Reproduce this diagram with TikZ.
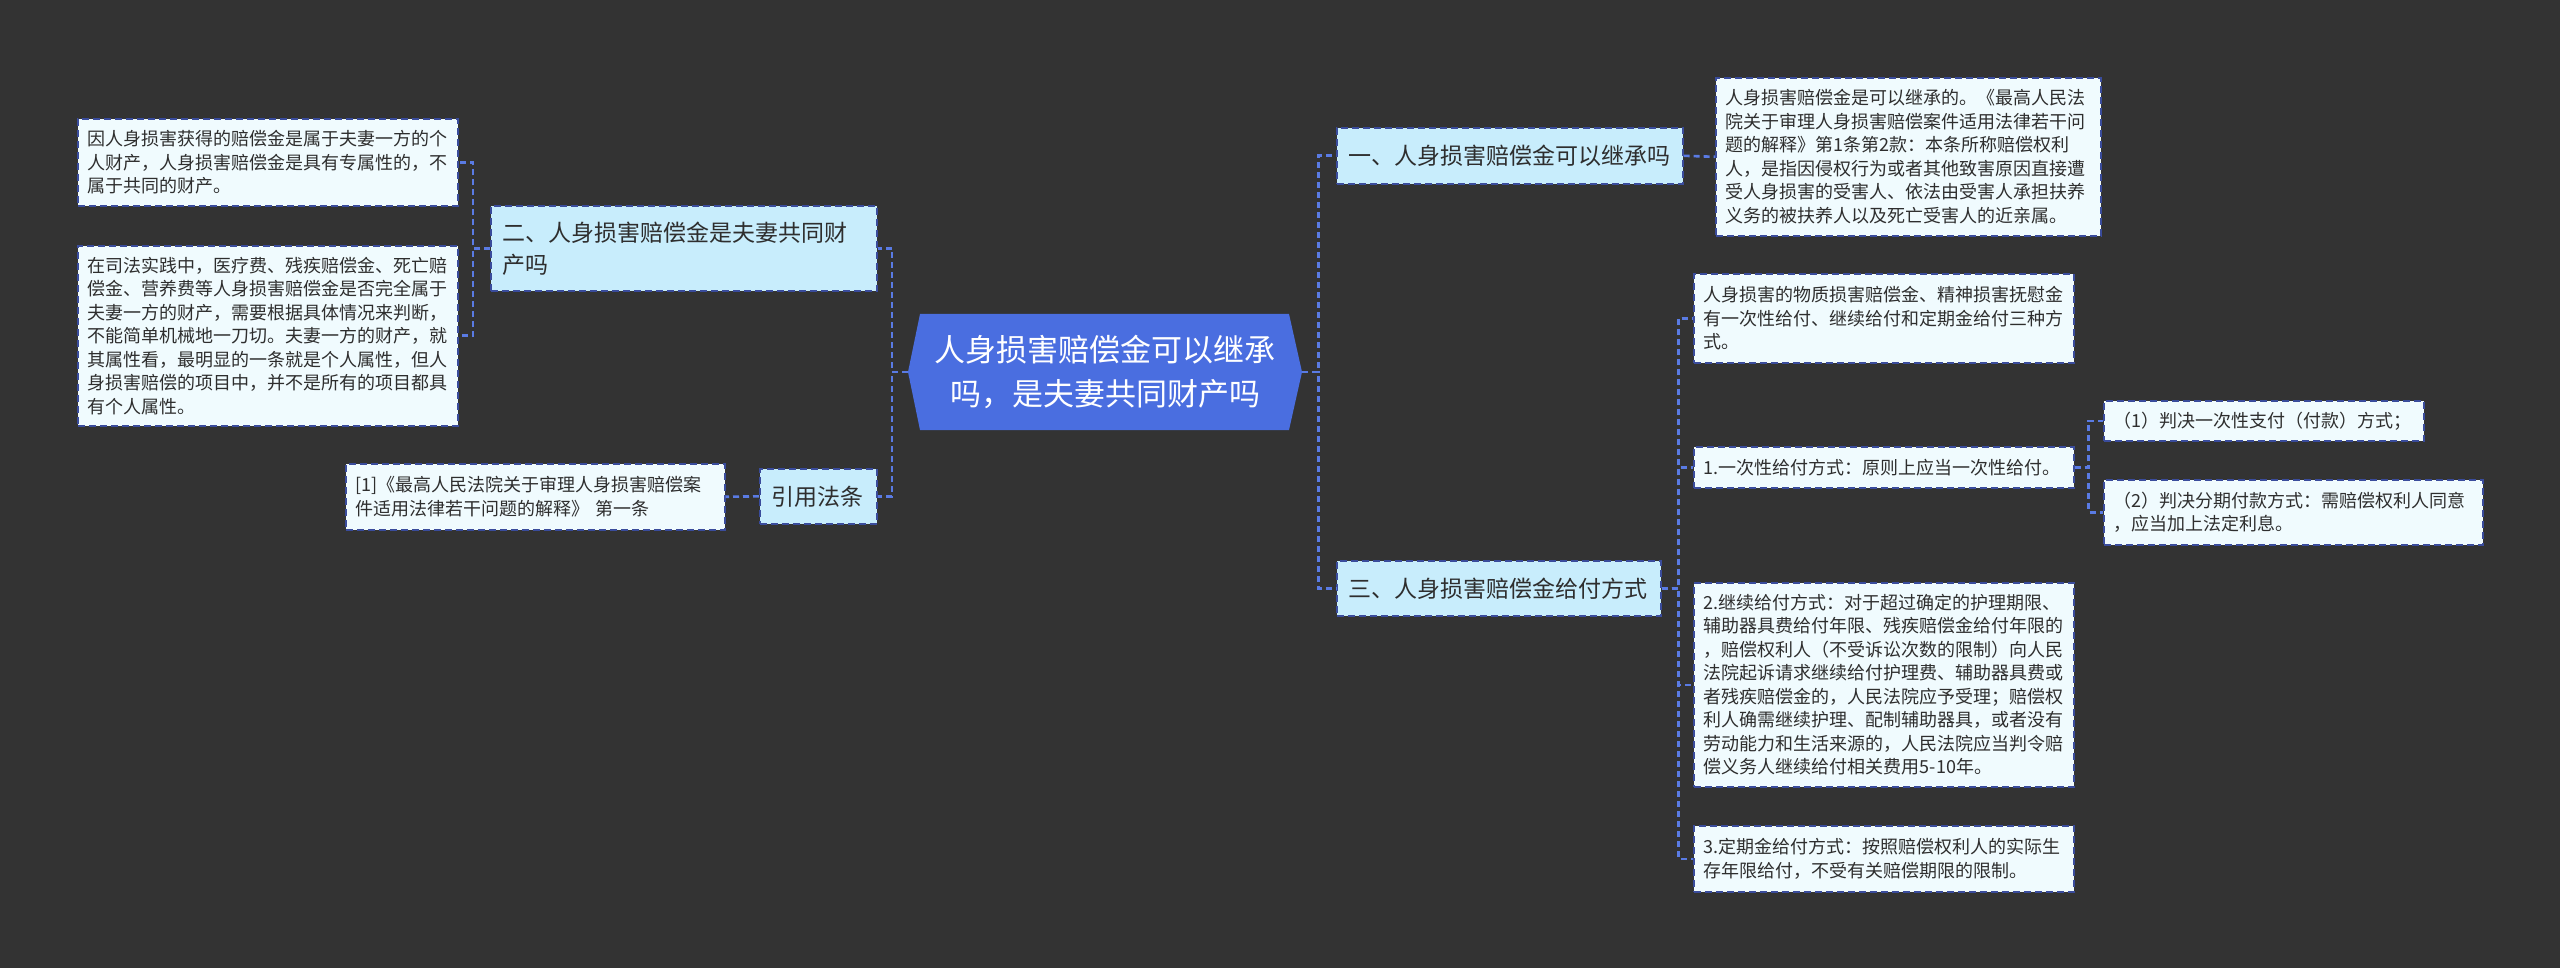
\documentclass[tikz,border=0pt]{standalone}
\usepackage{fontspec}
\setmainfont{Noto Sans CJK SC}
\usetikzlibrary{positioning,calc}
\definecolor{bg}{HTML}{333333}
\definecolor{wire}{HTML}{5A7BE4}
\definecolor{edge}{HTML}{3A4C9C}
\definecolor{rootblue}{HTML}{4A6EE0}
\definecolor{skytint}{HTML}{C8EDFC}
\definecolor{paletint}{HTML}{F0FBFE}
\definecolor{ink}{HTML}{2E2E2E}
\tikzset{
  card/.style={draw=edge, line width=1.6pt, dash pattern=on 7pt off 4pt,
    anchor=north west, align=left, text=ink, inner ysep=0pt},
  leaf/.style={card, fill=paletint, inner xsep=10pt,
    font=\fontsize{18pt}{23.5pt}\selectfont},
  branch/.style={card, fill=skytint, inner xsep=12pt,
    font=\fontsize{23pt}{32pt}\selectfont},
  rootbox/.style={text=white, align=center, minimum width=394pt, minimum height=116pt,
    inner sep=0pt, font=\fontsize{31pt}{44pt}\selectfont},
  link/.style={draw=wire, line width=2.6pt, dash pattern=on 6pt off 4pt},
}

\begin{document}
\begin{tikzpicture}[x=1pt, y=-1pt]
  \fill[bg] (0,0) rectangle (2560,968);
  \useasboundingbox (0,0) rectangle (2560,968);

  % centre
  \fill[rootblue] (908,372) -- (920,314) -- (1289,314) -- (1302,372) -- (1289,430) -- (920,430) -- cycle;
  \node[rootbox] (root) at (1105,372) {人身损害赔偿金可以继承\\吗，是夫妻共同财产吗};

  % left side
  \node[branch, text width=362pt, minimum height=85pt] (n2) at (490,205) {二、人身损害赔偿金是夫妻共同财\\产吗};
  \node[leaf, text width=360pt, minimum height=87pt] (a1) at (77,118)
    {因人身损害获得的赔偿金是属于夫妻一方的个\\人财产，人身损害赔偿金是具有专属性的，不\\属于共同的财产。};
  \node[leaf, text width=360pt, minimum height=180pt] (a2) at (77,245)
    {在司法实践中，医疗费、残疾赔偿金、死亡赔\\偿金、营养费等人身损害赔偿金是否完全属于\\夫妻一方的财产，需要根据具体情况来判断，\\不能简单机械地一刀切。夫妻一方的财产，就\\其属性看，最明显的一条就是个人属性，但人\\身损害赔偿的项目中，并不是所有的项目都具\\有个人属性。};
  \node[branch, text width=93pt, minimum height=55pt] (cite) at (759,468) {引用法条};
  \node[leaf, text width=359pt, minimum height=66pt] (ref) at (345,463)
    {[1]《最高人民法院关于审理人身损害赔偿案\\件适用法律若干问题的解释》 第一条};

  % right side
  \node[branch, text width=322pt, minimum height=56pt] (n1) at (1336,127) {一、人身损害赔偿金可以继承吗};
  \node[leaf, text width=365pt, minimum height=158pt] (d1) at (1715,77)
    {人身损害赔偿金是可以继承的。《最高人民法\\院关于审理人身损害赔偿案件适用法律若干问\\题的解释》第1条第2款：本条所称赔偿权利\\人，是指因侵权行为或者其他致害原因直接遭\\受人身损害的受害人、依法由受害人承担扶养\\义务的被扶养人以及死亡受害人的近亲属。};
  \node[branch, text width=300pt, minimum height=55pt] (n3) at (1336,560) {三、人身损害赔偿金给付方式};
  \node[leaf, text width=360pt, minimum height=89pt] (m1) at (1693,273)
    {人身损害的物质损害赔偿金、精神损害抚慰金\\有一次性给付、继续给付和定期金给付三种方\\式。};
  \node[leaf, text width=360pt, minimum height=41pt] (m2) at (1693,446)
    {1.一次性给付方式：原则上应当一次性给付。};
  \node[leaf, text width=300pt, minimum height=40pt] (p1) at (2103,400)
    {（1）判决一次性支付（付款）方式；};
  \node[leaf, text width=359pt, minimum height=65pt] (p2) at (2103,479)
    {（2）判决分期付款方式：需赔偿权利人同意\\，应当加上法定利息。};
  \node[leaf, text width=360pt, minimum height=204pt] (m3) at (1693,582)
    {2.继续给付方式：对于超过确定的护理期限、\\辅助器具费给付年限、残疾赔偿金给付年限的\\，赔偿权利人（不受诉讼次数的限制）向人民\\法院起诉请求继续给付护理费、辅助器具费或\\者残疾赔偿金的，人民法院应予受理；赔偿权\\利人确需继续护理、配制辅助器具，或者没有\\劳动能力和生活来源的，人民法院应当判令赔\\偿义务人继续给付相关费用5-10年。};
  \node[leaf, text width=360pt, minimum height=66pt] (m4) at (1693,825)
    {3.定期金给付方式：按照赔偿权利人的实际生\\存年限给付，不受有关赔偿期限的限制。};

  % connectors
  \foreach \k in {n2,cite} \draw[link] (root.west) -- ++(-16,0) |- (\k.east);
  \foreach \k in {a1,a2} \draw[link] (n2.west) -- ++(-17,0) |- (\k.east);
  \draw[link] (cite.west) -- (ref.east);
  \foreach \k in {n1,n3} \draw[link] (root.east) -- ++(16,0) |- (\k.west);
  \draw[link] (n1.east) -- (d1.west);
  \foreach \k in {m1,m2,m3,m4} \draw[link] (n3.east) -- ++(17,0) |- (\k.west);
  \foreach \k in {p1,p2} \draw[link] (m2.east) -- ++(14,0) |- (\k.west);
\end{tikzpicture}
\end{document}
